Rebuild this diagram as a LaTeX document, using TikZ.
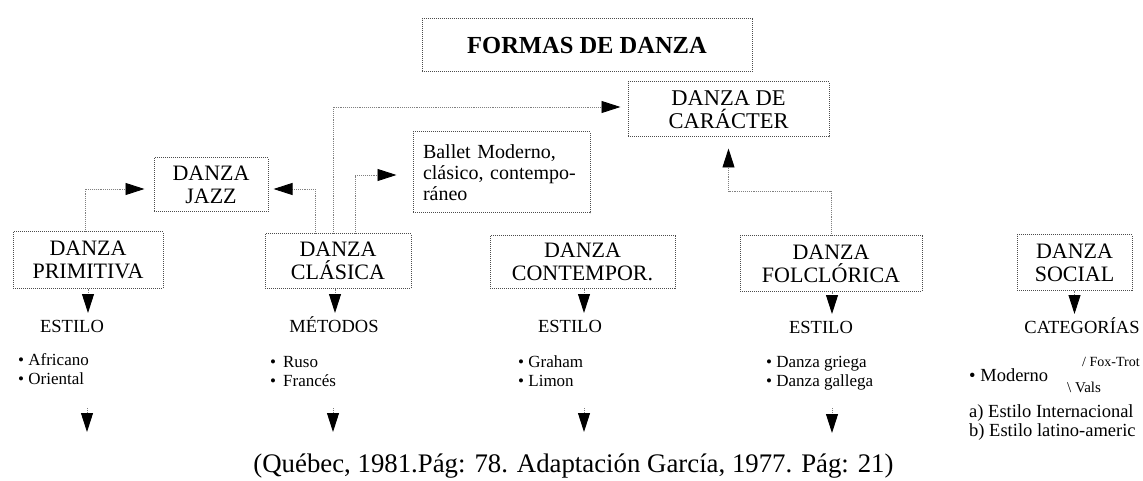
\documentclass[tikz,border=0pt]{standalone}
\usepackage{fontspec}
\setmainfont{Liberation Serif}
\usetikzlibrary{arrows.meta,calc}
\begin{document}
\begin{tikzpicture}[x=1pt,y=-1pt,
  box/.style={draw=black!70, densely dotted, line width=1pt, inner sep=0pt, align=center,
    font=\fontsize{22}{23}\selectfont},
  tip/.style={-{Triangle[length=19pt,width=12pt,fill=black,color=black]}},
  conn/.style={draw=black!50, densely dotted, line width=0.9pt, tip},
  lab/.style={inner sep=0pt, anchor=north, text height=13pt, text depth=3pt, font=\fontsize{18.5}{20}\selectfont},
  lst/.style={inner sep=0pt, anchor=west, align=left, font=\fontsize{17}{18.7}\selectfont},
  small/.style={inner sep=0pt, anchor=west, font=\fontsize{18.5}{20}\selectfont},
  tiny/.style={inner sep=0pt, anchor=west, font=\fontsize{14}{15}\selectfont}]
\useasboundingbox (0,0) rectangle (1143,481);

% boxes
\node[box, minimum width=330, minimum height=53, font=\bfseries\fontsize{24.5}{26}\selectfont] (formas) at (587,45.5) {FORMAS DE DANZA};
\node[box, minimum width=201, minimum height=55, font=\fontsize{22.5}{23}\selectfont] (caracter) at (728.5,109.5) {DANZA DE\\CARÁCTER};
\node[box, minimum width=177, minimum height=81, text width=157, align=left, font=\fontsize{20}{21}\selectfont] (ballet) at (501.5,172.5) {Ballet Moderno,\\clásico, contempo-\\ráneo};
\node[box, minimum width=114, minimum height=54] (jazz) at (211,185) {DANZA\\JAZZ};
\node[box, minimum width=150, minimum height=56] (primitiva) at (88,260) {DANZA\\PRIMITIVA};
\node[box, minimum width=146, minimum height=54] (clasica) at (338,261) {DANZA\\CLÁSICA};
\node[box, minimum width=185, minimum height=52] (contempor) at (582.5,262) {DANZA\\CONTEMPOR.};
\node[box, minimum width=182, minimum height=55] (folclorica) at (831,263.5) {DANZA\\FOLCLÓRICA};
\node[box, minimum width=115, minimum height=55] (social) at (1074.5,262.5) {DANZA\\SOCIAL};

% connectors between boxes
\draw[conn, shorten >=9pt] ([xshift=-3pt]primitiva.north) |- ([yshift=-4pt]jazz.west);
\draw[conn, shorten >=5pt] ([xshift=-23pt]clasica.north) |- ([yshift=-4pt]jazz.east);
\draw[conn, shorten >=7pt] ([xshift=-5pt]clasica.north) |- ([yshift=2.5pt]caracter.west);
\draw[conn, shorten >=16pt] ([xshift=17pt]clasica.north) |- ([yshift=-2.5pt]ballet.west);
\draw[conn, shorten >=11pt] (folclorica.north) -- ++(0,-44) -| (caracter.south);

% labels
\node[lab] (est1) at (72,319) {ESTILO};
\node[lab] (met) at (334,319) {MÉTODOS};
\node[lab] (est2) at (570,319) {ESTILO};
\node[lab] (est3) at (821,320) {ESTILO};
\node[lab] (cat) at (1082,320) {CATEGORÍAS};

\draw[conn, shorten >=6pt] (primitiva.south) -- (primitiva.south |- est1.north);
\draw[conn, shorten >=6pt] ([xshift=-3pt]clasica.south) -- ([xshift=-3pt]clasica.south |- met.north);
\draw[conn, shorten >=6pt] ([xshift=1.5pt]contempor.south) -- ([xshift=1.5pt]contempor.south |- est2.north);
\draw[conn, shorten >=6pt] ([xshift=1pt]folclorica.south) -- ([xshift=1pt]folclorica.south |- est3.north);
\draw[conn, shorten >=6pt] (social.south) -- (social.south |- cat.north);

% lists
\node[lst] (l1) at (18,369) {• Africano\\• Oriental};
\node[lst] (l2) at (270,371.5) {•\hspace{7pt}Ruso\\•\hspace{7pt}Francés};
\node[lst] (l3) at (518,371.5) {• Graham\\• Limon};
\node[lst] (l4) at (766,373) {• Danza griega\\• Danza gallega};

\node[lst, font=\fontsize{18.5}{20}\selectfont] (mod) at (969,375) {• Moderno};
\node[tiny] (fox) at (1082,362) {/ Fox-Trot};
\node[tiny, font=\fontsize{15}{16}\selectfont] (vals) at (1067,387) {\textbackslash\ Vals};
\node[small] (ca) at (969,413) {a) Estilo Internacional};
\node[small] (cb) at (969,432) {b) Estilo latino-americ};

% lower arrows
\coordinate (d1s) at (87,408);  \coordinate (d1e) at (87,432);
\coordinate (d2s) at (333,408); \coordinate (d2e) at (333,432);
\coordinate (d3s) at (584,408); \coordinate (d3e) at (584,432);
\coordinate (d4s) at (832,408); \coordinate (d4e) at (832,433);
\foreach \i in {1,2,3,4} \draw[conn] (d\i s) -- (d\i e);

% caption
\node[inner sep=0pt, font=\fontsize{26.8}{28}\selectfont] (cap) at (573.5,466) {(Québec, 1981.Pág: 78. Adaptación García, 1977. Pág: 21)};
\end{tikzpicture}
\end{document}
